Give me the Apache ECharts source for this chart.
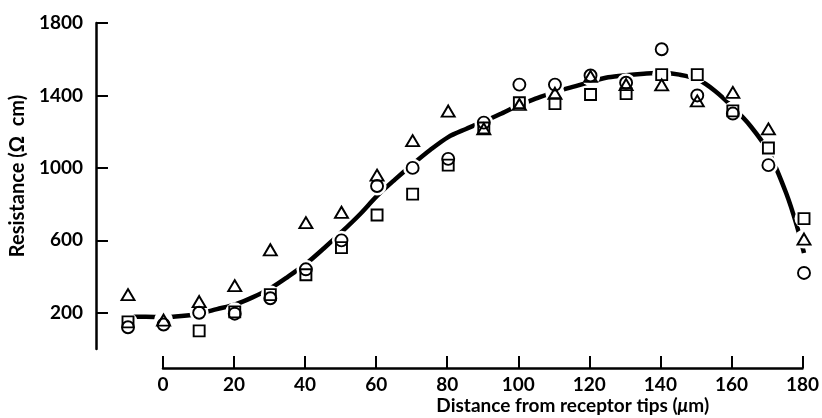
<!DOCTYPE html>
<html>
<head>
<meta charset="utf-8">
<script src="https://cdn.jsdelivr.net/npm/echarts@6/dist/echarts.min.js"></script>
<style>
html, body { margin: 0; padding: 0; background: #fff; }
#chart { width: 822px; height: 418px; }
</style>
</head>
<body>
<div id="chart"></div>
<script>
// 测量位置 (μm)
var distances = [-10, 0, 10, 20, 30, 40, 50, 60, 70, 80, 90, 100, 110, 120, 130, 140, 150, 160, 170, 180];

// 三组测量值 (Ω cm), null = 没有点
var circleVals   = [120, 135, 200, 195, 280, 440, 600, 900, 1000, 1050, 1250, 1460, 1460, 1510, 1470, 1655, 1400, 1300, 1015, 420];
var squareVals   = [150, null, 100, 205, 300, 410, 560, 740, 855, 1015, 1220, 1360, 1355, 1405, 1410, 1515, 1515, 1315, 1110, 720];
var triangleVals = [300, 160, 262, 350, 548, 698, 755, 960, 1150, 1314, 1215, 1350, 1412, 1505, 1460, 1458, 1370, 1417, 1215, 607];

// 拟合曲线 (从图上读的)
var curveX = [-10, -5, 0, 5, 10, 15, 20, 25, 30, 35, 40, 45, 50, 55, 60, 65, 70, 75, 80, 85, 90, 95, 100, 105, 110, 115, 120, 125, 130, 135, 140, 145, 150, 155, 160, 165, 170, 175, 178, 180];
var curveY = [178, 178, 175, 182, 195, 220, 245, 285, 335, 400, 470, 555, 645, 740, 845, 935, 1020, 1100, 1170, 1215, 1257, 1300, 1348, 1385, 1420, 1447, 1475, 1500, 1512, 1520, 1525, 1515, 1490, 1425, 1335, 1230, 1090, 860, 680, 530];

// 刻度
var yTicks = [200, 600, 1000, 1400, 1800];

function pairs(xs, ys) {
    var out = [];
    for (var i = 0; i < xs.length; i++) {
        if (ys[i] != null) out.push([xs[i], ys[i]]);
    }
    return out;
}

var circlePts = pairs(distances, circleVals);
var squarePts = pairs(distances, squareVals);
var trianglePts = pairs(distances, triangleVals);
var allPts = circlePts.concat(squarePts, trianglePts);

var markStyle = {
    color: 'transparent',
    borderColor: '#000',
    borderWidth: 1.9,
    opacity: 1
};

var labelFont = {color: '#000', fontFamily: 'Lato', fontWeight: 'bold', fontSize: 19};

var chart = echarts.init(document.getElementById('chart'));
var option = {
    animation: false,
    backgroundColor: '#fff',
    grid: [
        {left: 95, right: 18, top: 23, bottom: 69},
        {left: 163, right: 18, top: 300, bottom: 50}
    ],
    xAxis: [
        {
            gridIndex: 0,
            type: 'value',
            min: -19,
            max: 180,
            show: false
        },
        {
            gridIndex: 1,
            type: 'value',
            min: 0,
            max: 180,
            interval: 20,
            axisLine: {onZero: false, lineStyle: {color: '#000', width: 2.5}},
            axisTick: {inside: true, length: 12, lineStyle: {color: '#000', width: 2}},
            axisLabel: Object.assign({margin: 7}, labelFont),
            splitLine: {show: false},
            name: 'Distance from receptor tips ({i|μ}m)',
            nameLocation: 'middle',
            nameGap: 28,
            nameTextStyle: {
                color: '#000', fontFamily: 'Lato', fontSize: 19, fontWeight: 'bold',
                padding: [0, 0, 0, 180],
                rich: {i: {fontStyle: 'italic', fontFamily: 'Lato', fontWeight: 'bold', fontSize: 19, color: '#000'}}
            }
        }
    ],
    yAxis: [
        {
            gridIndex: 0,
            type: 'value',
            min: 0,
            max: 1800,
            axisLine: {show: true, onZero: false, lineStyle: {color: '#000', width: 2.5}},
            axisTick: {show: true, inside: true, length: 12, customValues: yTicks, lineStyle: {color: '#000', width: 2}},
            axisLabel: Object.assign({margin: 13, customValues: yTicks, formatter: function (v) { return String(v); }}, labelFont),
            splitLine: {show: false},
            name: 'Resistance (Ω  cm)',
            nameLocation: 'middle',
            nameGap: 66,
            nameTextStyle: {color: '#000', fontFamily: 'Lato', fontSize: 20, fontWeight: 'bold', padding: [0, 0, 0, 20]}
        },
        {
            gridIndex: 1,
            type: 'value',
            show: false
        }
    ],
    series: [
        {
            name: 'fit',
            type: 'line',
            xAxisIndex: 0,
            yAxisIndex: 0,
            data: pairs(curveX, curveY),
            smooth: 0.3,
            showSymbol: false,
            zlevel: 0,
            lineStyle: {color: '#000', width: 4.5}
        },
        {
            // 曲线在点附近断开
            name: 'halo',
            type: 'scatter',
            data: allPts,
            symbol: 'circle',
            symbolSize: 19,
            clip: false,
            zlevel: 1,
            z: 1,
            itemStyle: {color: '#fff', opacity: 1},
            silent: true
        },
        {
            name: 'circle',
            type: 'scatter',
            data: circlePts,
            symbol: 'circle',
            symbolSize: 12,
            clip: false,
            zlevel: 1,
            z: 5,
            itemStyle: markStyle
        },
        {
            name: 'square',
            type: 'scatter',
            data: squarePts,
            symbol: 'rect',
            symbolSize: 11,
            clip: false,
            zlevel: 1,
            z: 5,
            itemStyle: markStyle
        },
        {
            name: 'triangle',
            type: 'scatter',
            data: trianglePts,
            symbol: 'triangle',
            symbolSize: [13, 11],
            clip: false,
            zlevel: 1,
            z: 5,
            itemStyle: markStyle
        }
    ]
};
chart.setOption(option);
</script>
</body>
</html>
